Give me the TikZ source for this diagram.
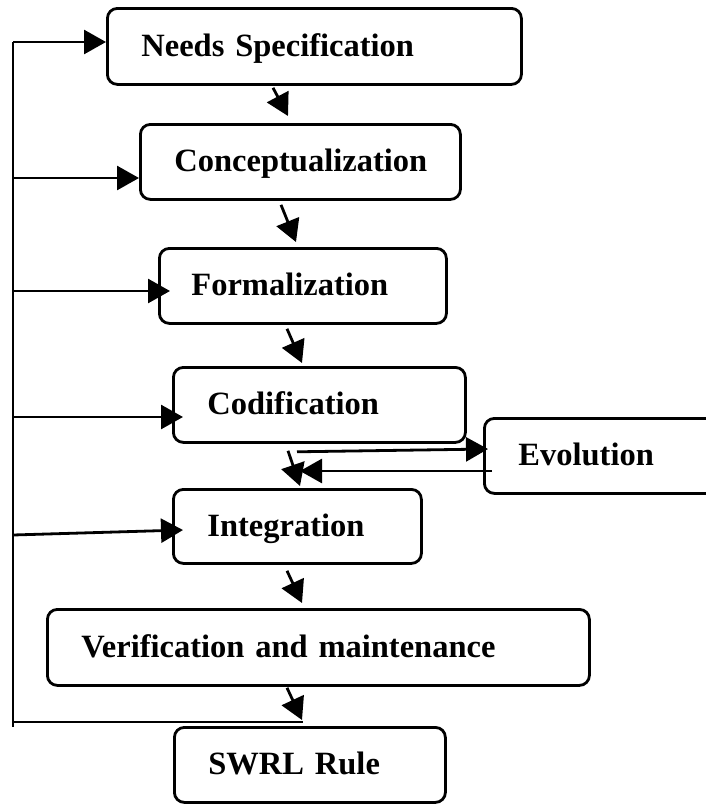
\documentclass[tikz,border=0pt]{standalone}
\usepackage{fontspec}
\setmainfont{Liberation Serif}
\usetikzlibrary{arrows.meta,calc}
\begin{document}
\begin{tikzpicture}[x=1pt,y=-1pt,
  lw/.style={line width=2.8pt},
  stagebox/.style={draw,lw,rounded corners=10pt,anchor=north west,inner xsep=0pt,inner ysep=0pt,
    align=left,text height=24pt,text depth=4pt,
    font=\fontsize{32.5}{40}\selectfont\bfseries},
  arr/.style={lw,-{Triangle[length=22pt,width=24pt]}},
  plain/.style={lw}]
\useasboundingbox (0,0) rectangle (705,804);
% boxes
\node[stagebox,text width=414pt,minimum height=76pt] (needs) at (106,7) {\hspace*{34pt}Needs Specification};
\node[stagebox,text width=320pt,minimum height=75pt] (concept) at (139,123) {\hspace*{34pt}Conceptualization};
\node[stagebox,text width=287pt,minimum height=75pt] (form) at (158,247) {\hspace*{32pt}Formalization};
\node[stagebox,text width=292pt,minimum height=75pt] (codif) at (172,366) {\hspace*{34pt}Codification};
\node[stagebox,text width=235pt,minimum height=75pt] (evo) at (483,417) {\hspace*{34pt}Evolution};
\node[stagebox,text width=248pt,minimum height=74pt] (integ) at (172,488) {\hspace*{34pt}Integration};
\node[stagebox,text width=542pt,minimum height=76pt] (verif) at (46,608) {\hspace*{34pt}Verification and maintenance};
\node[stagebox,text width=271pt,minimum height=75pt] (swrl) at (173,726) {\hspace*{34pt}SWRL Rule};
% spine coordinates
\coordinate (s1) at (13,42);
\coordinate (s2) at (13,178);
\coordinate (s3) at (13,291);
\coordinate (s4) at (13,417);
\coordinate (s5) at (13,535);
\coordinate (s6) at (13,722);
\coordinate (s7) at (13,727);
% spine
\draw[plain] (s1) -- (s7);
\draw[arr] (s1) -- (s1 -| needs.west);
\draw[arr] (s2) -- (s2 -| concept.west);
\draw[arr] (s3) -- ($(s3 -| form.west)+(12,0)$);
\draw[arr] (s4) -- ($(s4 -| codif.west)+(11,0)$);
\draw[arr] (s5) -- ($(integ.north west)+(11,42)$);
\draw[plain] (s6) -- ($(swrl.north west)+(130,-4)$);
% downward arrows
\draw[arr] ($(needs.south west)+(167,2)$) -- ($(concept.north west)+(149,-7)$);
\draw[arr] ($(concept.south west)+(142,4)$) -- ($(form.north west)+(138,-5)$);
\draw[arr] ($(form.south west)+(129,4)$) -- ($(codif.north west)+(130,-3)$);
\draw[arr] ($(codif.south west)+(116,7)$) -- ($(integ.north west)+(128,-2)$);
\draw[arr] ($(integ.south west)+(115,6)$) -- ($(verif.north west)+(256,-5)$);
\draw[arr] ($(verif.south west)+(241,1)$) -- ($(swrl.north west)+(129,-6)$);
% evolution loop
\draw[arr] ($(codif.south west)+(125,8)$) -- ($(evo.north west)+(5,32)$);
\draw[arr] ($(evo.north west)+(9,54)$) -- ($(integ.north west)+(128,-17)$);
\end{tikzpicture}
\end{document}
